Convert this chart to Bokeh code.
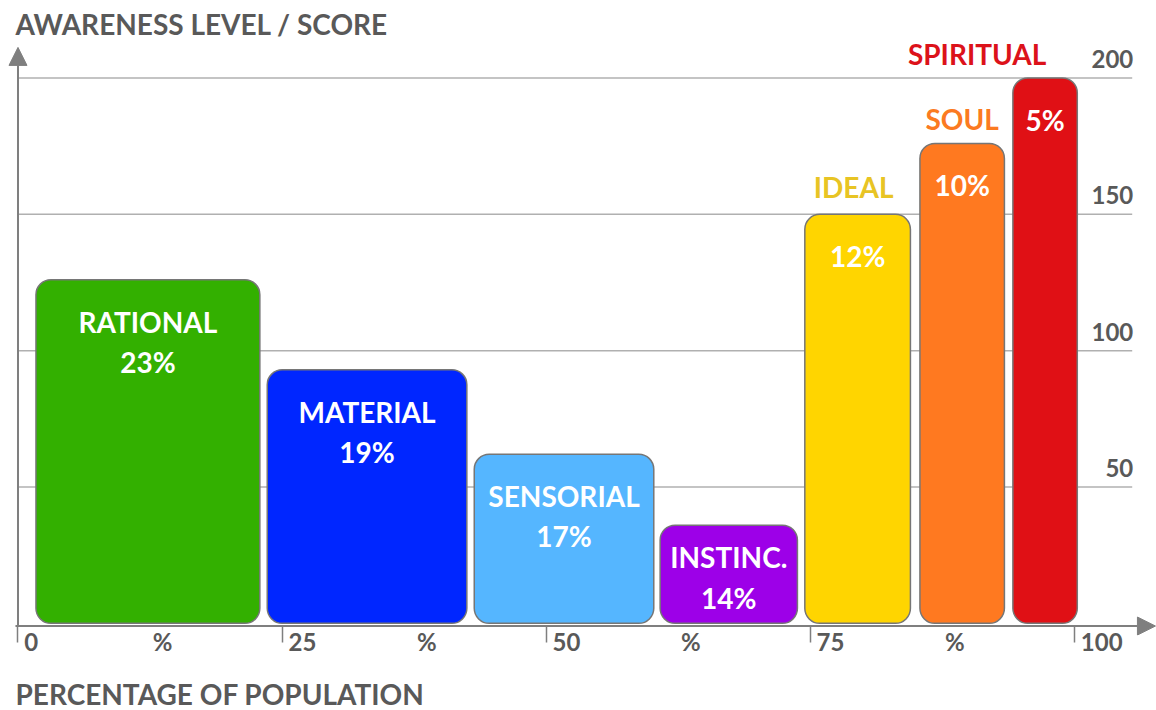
from bokeh.plotting import figure
from bokeh.models import ColumnDataSource, Range1d, FixedTicker, Arrow, NormalHead, Title
from bokeh.core.properties import value
from bokeh.embed import file_html
from bokeh.resources import INLINE

# ---------------- data ----------------
categories = ["RATIONAL", "MATERIAL", "SENSORIAL", "INSTINC.", "IDEAL", "SOUL", "SPIRITUAL"]
population_pct = [23, 19, 17, 14, 12, 10, 5]
awareness_score = [126, 93, 62, 36, 150, 176, 200]
bar_left = [1.7, 23.6, 43.2, 60.8, 74.5, 85.4, 94.2]
bar_right = [22.9, 42.5, 60.2, 73.8, 84.5, 93.4, 100.3]
x_major_ticks = [0, 25, 50, 75, 100]
x_tick_labels = ["0", "%", "25", "%", "50", "%", "75", "%", "100"]
y_ticks = [50, 100, 150, 200]
y_tick_labels = ["50", "100", "150", "200"]

# ---------------- style ----------------
bar_colors = ["#33b000", "#0026ff", "#55b6ff", "#9d00e8", "#ffd500", "#ff7920", "#e01015"]
outside_name_colors = ["#e8c424", "#fb7a21", "#dc121a"]
outside_dx = [-4, 0, -68]      # px shifts of the names written above bars
outside_dy = [-17, -14, -14]   # px above bar top
GRAY_TEXT = "#595959"
AXIS_GRAY = "#7f7f7f"
GRID_GRAY = "#b0b0b0"
FONT = "Lato"
FIX = -10  # baseline correction (px)

p = figure(width=1156, height=710, output_backend="svg", toolbar_location=None,
           x_range=Range1d(-1.657, 107.8), y_range=Range1d(-4.47, 228.4),
           y_axis_location=None, min_border_left=0, min_border_right=0,
           min_border_top=0, min_border_bottom=74)
p.outline_line_color = None
p.grid.visible = False
p.background_fill_color = "white"

# gridlines
p.segment(x0=[0] * len(y_ticks), x1=[105.5] * len(y_ticks), y0=y_ticks, y1=y_ticks,
          line_color=GRID_GRAY, line_width=1.5)

# y tick labels (right side)
p.text(x=[105.6] * len(y_ticks), y=y_ticks, text=y_tick_labels, text_align="right",
       text_baseline="alphabetic", y_offset=-9 + FIX, text_font=value(FONT),
       text_font_style="bold", text_font_size="24px", text_color=GRAY_TEXT)

# bars
src = ColumnDataSource(dict(left=bar_left, right=bar_right, top=awareness_score,
                            bottom=[0] * len(categories), color=bar_colors))
p.quad(left="left", right="right", top="top", bottom="bottom", source=src,
       fill_color="color", line_color="#767676", line_width=1.5, border_radius=15)

# labels inside / above bars
centers = [(l + r) / 2 for l, r in zip(bar_left, bar_right)]
n_in = 4
drop1 = [(52 if s > 50 else 42) + FIX for s in awareness_score]
drop2 = [(92 if s > 50 else 83) + FIX for s in awareness_score]
p.text(x=centers[:n_in], y=awareness_score[:n_in], text=categories[:n_in],
       y_offset=drop1[:n_in], text_align="center", text_baseline="alphabetic",
       text_font=value(FONT), text_font_style="bold", text_font_size="28px", text_color="white")
pct_text = [f"{v}%" for v in population_pct]
pct_off = drop2[:n_in] + drop1[n_in:]
p.text(x=centers, y=awareness_score, text=pct_text, y_offset=pct_off,
       text_align="center", text_baseline="alphabetic",
       text_font=value(FONT), text_font_style="bold", text_font_size="28px", text_color="white")
p.text(x=centers[n_in:], y=awareness_score[n_in:], text=categories[n_in:],
       x_offset=outside_dx, y_offset=[d + FIX for d in outside_dy],
       text_align="center", text_baseline="alphabetic",
       text_font=value(FONT), text_font_style="bold", text_font_size="28px",
       text_color=outside_name_colors)

# y axis title
p.text(x=[-0.24], y=[216.2], text=["AWARENESS LEVEL / SCORE"], text_align="left",
       text_baseline="alphabetic", y_offset=FIX, text_font=value(FONT), text_font_style="bold",
       text_font_size="28px", text_color=GRAY_TEXT)

# y axis arrow
p.add_layout(Arrow(x_start=0, y_start=-1.0, x_end=0, y_end=211.2, line_color=AXIS_GRAY,
                   line_width=2, end=NormalHead(size=18, fill_color=AXIS_GRAY, line_color=AXIS_GRAY)))
# x axis arrow
p.add_layout(Arrow(x_start=-0.24, y_start=-1.0, x_end=107.7, y_end=-1.0, line_color=AXIS_GRAY,
                   line_width=2, end=NormalHead(size=18, fill_color=AXIS_GRAY, line_color=AXIS_GRAY)))

# x axis: tick marks (minor) at 0/25/50/75/100 and labels (major)
lab_pos = []
for i, lab in enumerate(x_tick_labels):
    if lab == "%":
        mid = (x_major_ticks[i // 2] + x_major_ticks[i // 2 + 1]) / 2
        lab_pos.append(round(mid + 1.2, 2))
    else:
        t = x_major_ticks[i // 2]
        lab_pos.append(round(t + 0.57 + len(lab) * 0.68, 2))
xa = p.xaxis[0]
xa.ticker = FixedTicker(ticks=lab_pos, minor_ticks=x_major_ticks)
xa.major_label_overrides = dict(zip(lab_pos, x_tick_labels))
xa.major_tick_line_color = None
xa.major_tick_out = 0
xa.major_tick_in = 0
xa.minor_tick_line_color = AXIS_GRAY
xa.minor_tick_line_width = 1.5
xa.minor_tick_out = 7
xa.minor_tick_in = 10
xa.axis_line_color = None
xa.major_label_standoff = -16
xa.major_label_text_font = FONT
xa.major_label_text_font_size = "24px"
xa.major_label_text_font_style = "bold"
xa.major_label_text_color = GRAY_TEXT
# invisible spacer label to push the title below down
xa.axis_label = " "
xa.axis_label_text_font_size = "1px"
xa.axis_label_standoff = 12

t = Title(text="PERCENTAGE OF POPULATION", align="left", offset=15, text_font=FONT,
          text_font_size="28px", text_font_style="bold", text_color=GRAY_TEXT, standoff=0)
p.add_layout(t, "below")

open("out.html", "w").write(file_html(p, INLINE))
